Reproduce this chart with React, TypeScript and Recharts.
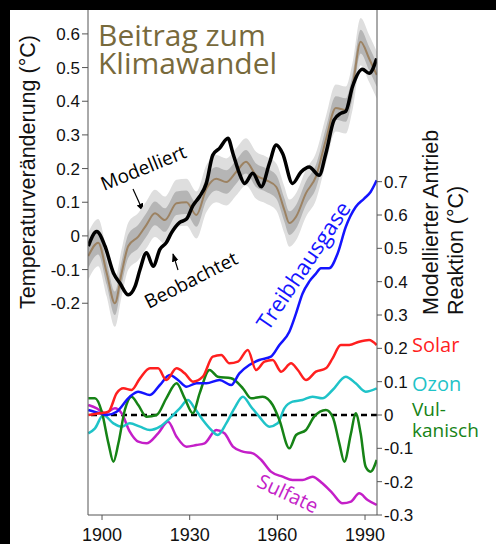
import React from 'react';
import { ComposedChart, Line, Area, XAxis, YAxis, ReferenceLine } from 'recharts';

// [Jahr, Wert] – obere Kurven (linke Achse)
const observed: [number, number][] = [
  [1895.3, -0.03], [1898.2, 0.013], [1901, -0.03], [1903.9, -0.11], [1906.1, -0.14],
  [1909, -0.175], [1911.3, -0.15], [1913, -0.1], [1915.2, -0.05], [1917.5, -0.09],
  [1919.8, -0.04], [1922, -0.02], [1923.7, 0.008], [1926.6, 0.04], [1928.9, 0.05],
  [1931.1, 0.09], [1933.4, 0.117], [1935.7, 0.156], [1937.9, 0.24], [1940.2, 0.26],
  [1943.1, 0.29], [1944.8, 0.245], [1947, 0.186], [1948.8, 0.156], [1951.6, 0.186],
  [1954.5, 0.146], [1957.3, 0.216], [1959.6, 0.27], [1961.8, 0.245], [1965.2, 0.156],
  [1968.1, 0.19], [1970.9, 0.205], [1974.3, 0.18], [1976.6, 0.245], [1979.4, 0.344],
  [1981.7, 0.364], [1983.4, 0.37], [1985.7, 0.443], [1989.1, 0.495], [1991.4, 0.483],
  [1994, 0.527],
];

const modelled: [number, number][] = [
  [1895.3, -0.06], [1898.7, -0.02], [1901.6, -0.11], [1904.4, -0.2], [1906.7, -0.11],
  [1909, -0.03], [1912.4, -0.002], [1915.2, 0.033], [1918.1, 0.067], [1921.5, 0.047],
  [1925.5, 0.097], [1928.9, 0.1], [1932.3, 0.062], [1935.7, 0.14], [1939.1, 0.17],
  [1942.5, 0.16], [1945.9, 0.19], [1949.3, 0.22], [1952.7, 0.18], [1956.1, 0.166],
  [1959.6, 0.146], [1962.4, 0.077], [1964.1, 0.038], [1966.4, 0.057], [1969.8, 0.127],
  [1973.2, 0.176], [1976.6, 0.285], [1980, 0.38], [1983.4, 0.374], [1985.7, 0.443],
  [1988.5, 0.577], [1991.4, 0.527], [1994, 0.478],
];

// Streubreite der Modellläufe (halbe Breite)
const innerSpread = 0.035;
const outerSpread = 0.07;

// untere Kurven (rechte Achse)
const greenhouse: [number, number][] = [
  [1895.3, 0.015], [1899.3, 0.005], [1901.6, 0], [1905, 0.01], [1909.5, 0.055],
  [1912.4, 0.07], [1916.4, 0.06], [1919.8, 0.09], [1923.2, 0.12], [1926, 0.105],
  [1928.9, 0.085], [1932.3, 0.095], [1935.7, 0.095], [1940.2, 0.105], [1944.2, 0.09],
  [1947, 0.125], [1950.4, 0.15], [1953.8, 0.165], [1957.8, 0.175], [1960.7, 0.21],
  [1964.1, 0.25], [1966.4, 0.305], [1968.6, 0.364], [1970.9, 0.4], [1973.2, 0.424],
  [1974.9, 0.44], [1977.7, 0.44], [1980.6, 0.484], [1983.4, 0.564], [1986.8, 0.624],
  [1989.7, 0.649], [1991.9, 0.669], [1994, 0.704],
];

const solar: [number, number][] = [
  [1895.3, 0], [1899.3, 0.005], [1902.2, 0.01], [1905, 0.065], [1907.3, 0.08],
  [1910.1, 0.075], [1913, 0.11], [1916.4, 0.14], [1919.2, 0.14], [1922, 0.105],
  [1925.5, 0.14], [1928.3, 0.125], [1931.1, 0.1], [1934.5, 0.115], [1937.9, 0.175],
  [1940.8, 0.18], [1943.6, 0.155], [1946.5, 0.16], [1949.9, 0.195], [1952.7, 0.135],
  [1955.6, 0.16], [1958.4, 0.165], [1961.3, 0.13], [1964.7, 0.155], [1967, 0.135],
  [1969.8, 0.105], [1973.2, 0.13], [1976.6, 0.14], [1978.9, 0.17], [1981.7, 0.21],
  [1984.6, 0.21], [1988, 0.22], [1991.4, 0.225], [1994, 0.21],
];

const ozone: [number, number][] = [
  [1895.3, -0.055], [1897.6, -0.04], [1900.4, 0], [1903.9, -0.025], [1906.7, -0.035],
  [1909.5, -0.025], [1913, -0.035], [1916.4, -0.045], [1919.8, -0.035], [1923.2, -0.01],
  [1926.6, 0.02], [1929.4, 0.045], [1931.7, 0.02], [1934.5, -0.015], [1937.4, -0.045],
  [1939.6, -0.06], [1942.5, -0.025], [1945.3, 0.02], [1948.2, 0.055], [1951, 0.025],
  [1953.8, -0.005], [1957.3, -0.035], [1960.1, -0.025], [1962.4, 0.02], [1965.2, 0.04],
  [1968.6, 0.045], [1972, 0.055], [1975.4, 0.05], [1978.9, 0.075], [1983.4, 0.115],
  [1986.8, 0.095], [1990.2, 0.07], [1994, 0.08],
];

const volcanic: [number, number][] = [
  [1895.3, 0.05], [1897.6, 0.05], [1899.9, 0.01], [1902.2, -0.085], [1903.9, -0.14],
  [1905.6, -0.085], [1907.8, 0.015], [1910.1, 0.055], [1912.4, 0.03], [1915.2, -0.005],
  [1918.7, 0], [1922, 0.05], [1925.5, 0.095], [1928.3, 0.05], [1931.1, 0.005],
  [1933.4, 0.065], [1936.8, 0.135], [1939.6, 0.115], [1944.2, 0.11], [1948.2, 0.08],
  [1951, 0.05], [1955, 0.055], [1958.4, 0.03], [1960.7, -0.015], [1964.1, -0.1],
  [1966.4, -0.06], [1969.8, -0.045], [1972.6, -0.005], [1976.6, 0.015], [1978.9, -0.005],
  [1981.2, -0.085], [1982.9, -0.14], [1985.2, -0.055], [1986.8, 0.005], [1988.5, -0.055],
  [1990.2, -0.155], [1991.9, -0.17], [1994, -0.135],
];

const sulfate: [number, number][] = [
  [1895.3, 0.03], [1898.2, 0.02], [1901, 0.005], [1904.4, 0.02], [1906.7, 0.005],
  [1909.5, -0.05], [1912.4, -0.08], [1915.2, -0.085], [1919.2, -0.055], [1922.6, -0.02],
  [1925.5, -0.065], [1928.9, -0.095], [1932.3, -0.09], [1935.1, -0.085], [1939.1, -0.045],
  [1941.9, -0.055], [1944.8, -0.095], [1948.2, -0.11], [1951.6, -0.115], [1954.5, -0.135],
  [1957.8, -0.17], [1961.8, -0.185], [1965.2, -0.195], [1968.6, -0.195], [1972, -0.185],
  [1975.4, -0.205], [1978.9, -0.235], [1982.3, -0.265], [1985.2, -0.26], [1988, -0.235],
  [1990.9, -0.255], [1994, -0.27],
];

const yearTicks = [1900, 1930, 1960, 1990];
const tempTicks = [-0.2, -0.1, 0, 0.1, 0.2, 0.3, 0.4, 0.5, 0.6];
const forcingTicks = [-0.3, -0.2, -0.1, 0, 0.1, 0.2, 0.3, 0.4, 0.5, 0.6, 0.7];

const toRows = (s: [number, number][]) => s.map(([year, v]) => ({ year, v }));
const bandRows = modelled.map(([year, v]) => ({
  year,
  outer: [v - outerSpread, v + outerSpread],
  inner: [v - innerSpread, v + innerSpread],
}));

const fmt = (v: number) => (v === 0 ? '0' : v.toFixed(1));
const sans = 'Liberation Sans, Arial, sans-serif';
const label = 'Open Sans, sans-serif';
const frame = '#555';

export default function App() {
  return (
    <div style={{ position: 'absolute', left: 0, top: 0, width: 496, height: 544, background: '#000' }}>
      <div style={{ position: 'absolute', left: 10, top: 10, right: 0, bottom: 0, background: '#fff' }} />
      <div style={{ position: 'absolute', left: 0, top: 0 }}>
        <ComposedChart width={496} height={544} margin={{ top: 10, right: 79, bottom: 0, left: 0 }}>
          <defs>
            <marker id="pfeil" viewBox="0 0 10 10" refX="9" refY="5" markerWidth="7" markerHeight="7" orient="auto">
              <path d="M0,1 L10,5 L0,9 z" fill="#000" />
            </marker>
          </defs>
          <XAxis
            xAxisId="b" type="number" dataKey="year" domain={[1895.2, 1994.1]} allowDataOverflow
            ticks={yearTicks} height={29} tickSize={5} tickMargin={8} stroke={frame}
            tick={{ fill: '#111', fontSize: 18, fontFamily: sans }}
          />
          <XAxis
            xAxisId="t" orientation="top" type="number" dataKey="year" domain={[1895.2, 1994.1]}
            allowDataOverflow height={0} tick={false} tickLine={false} stroke={frame}
          />
          <YAxis
            yAxisId="temp" type="number" domain={[-0.829, 0.671]} allowDataOverflow ticks={tempTicks}
            width={88} tickSize={6} tickMargin={2} tickFormatter={fmt} stroke={frame}
            tick={{ fill: '#111', fontSize: 17, fontFamily: sans }}
          />
          <YAxis
            yAxisId="force" orientation="right" type="number" domain={[-0.3, 1.215]} allowDataOverflow
            ticks={forcingTicks} width={40} tickSize={5} tickMargin={2} tickFormatter={fmt} stroke={frame}
            tick={{ fill: '#111', fontSize: 17, fontFamily: sans }}
          />

          <Area data={bandRows} xAxisId="b" yAxisId="temp" dataKey="outer" type="monotone"
            fill="#dedede" fillOpacity={1} stroke="none" isAnimationActive={false} />
          <Area data={bandRows} xAxisId="b" yAxisId="temp" dataKey="inner" type="monotone"
            fill="#b5b5b5" fillOpacity={1} stroke="none" isAnimationActive={false} />
          <Line data={toRows(modelled)} xAxisId="b" yAxisId="temp" dataKey="v" type="monotone"
            stroke="#9c8262" strokeWidth={2} dot={false} isAnimationActive={false} />
          <Line data={toRows(observed)} xAxisId="b" yAxisId="temp" dataKey="v" type="monotone"
            stroke="#000" strokeWidth={3.5} dot={false} isAnimationActive={false} />

          <ReferenceLine xAxisId="b" yAxisId="force" y={0} stroke="#000" strokeWidth={2.5} strokeDasharray="6 4" />
          <Line data={toRows(sulfate)} xAxisId="b" yAxisId="force" dataKey="v" type="monotone"
            stroke="#c41fc8" strokeWidth={2.5} dot={false} isAnimationActive={false} />
          <Line data={toRows(ozone)} xAxisId="b" yAxisId="force" dataKey="v" type="monotone"
            stroke="#1fc3c8" strokeWidth={2.5} dot={false} isAnimationActive={false} />
          <Line data={toRows(volcanic)} xAxisId="b" yAxisId="force" dataKey="v" type="monotone"
            stroke="#168316" strokeWidth={2.5} dot={false} isAnimationActive={false} />
          <Line data={toRows(greenhouse)} xAxisId="b" yAxisId="force" dataKey="v" type="monotone"
            stroke="#1414ff" strokeWidth={2.5} dot={false} isAnimationActive={false} />
          <Line data={toRows(solar)} xAxisId="b" yAxisId="force" dataKey="v" type="monotone"
            stroke="#ff1f1f" strokeWidth={2.5} dot={false} isAnimationActive={false} />

          {/* Beschriftungen */}
          <text x={98} y={46} fontSize={30} fontFamily={label} fill="#786a3c">Beitrag zum</text>
          <text x={98} y={74} fontSize={30} fontFamily={label} fill="#786a3c">Klimawandel</text>

          <text x={146} y={174} fontSize={19} fontFamily={label} fill="#000" textAnchor="middle"
            transform="rotate(-22 146 174)">Modelliert</text>
          <line x1={133} y1={189} x2={143} y2={211} stroke="#000" strokeWidth={1.2} markerEnd="url(#pfeil)" />
          <text x={194} y={286} fontSize={19} fontFamily={label} fill="#000" textAnchor="middle"
            transform="rotate(-27 194 286)">Beobachtet</text>
          <line x1={178} y1={270} x2={173} y2={254} stroke="#000" strokeWidth={1.2} markerEnd="url(#pfeil)" />

          <text x={310} y={270} fontSize={22} fontFamily={label} fill="#1414ff" textAnchor="middle"
            transform="rotate(-56 310 270)">Treibhausgase</text>
          <text x={285} y={500} fontSize={20} fontFamily={label} fill="#c41fc8" textAnchor="middle"
            transform="rotate(25 285 500)">Sulfate</text>

          <text x={412} y={352} fontSize={20} fontFamily={label} fill="#ff1f1f">Solar</text>
          <text x={412} y={391} fontSize={20} fontFamily={label} fill="#1fc3c8">Ozon</text>
          <text x={412} y={416} fontSize={19} fontFamily={label} fill="#168316">Vul-</text>
          <text x={412} y={437} fontSize={19} fontFamily={label} fill="#168316">kanisch</text>

          <text x={35} y={172} fontSize={21.5} fontFamily={sans} fill="#111" textAnchor="middle"
            transform="rotate(-90 35 172)">Temperaturveränderung (°C)</text>
          <text x={438} y={315} fontSize={21.5} fontFamily={sans} fill="#111"
            transform="rotate(-90 438 315)">Modellierter Antrieb</text>
          <text x={463} y={315} fontSize={21.5} fontFamily={sans} fill="#111"
            transform="rotate(-90 463 315)">Reaktion (°C)</text>
        </ComposedChart>
      </div>
    </div>
  );
}
